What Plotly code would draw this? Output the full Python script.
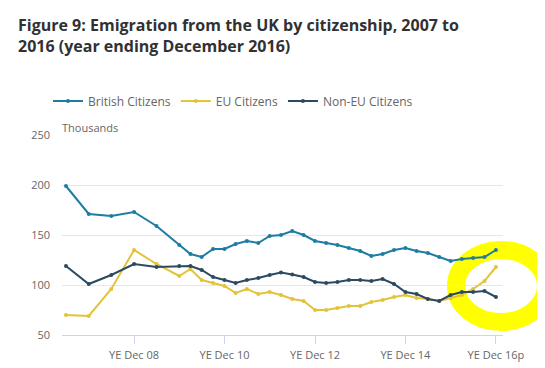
import plotly.graph_objects as go

periods = ["2007-06-30", "2007-12-31", "2008-06-30", "2008-12-31", "2009-06-30", "2009-12-31",
           "2010-03-31", "2010-06-30", "2010-09-30", "2010-12-31",
           "2011-03-31", "2011-06-30", "2011-09-30", "2011-12-31",
           "2012-03-31", "2012-06-30", "2012-09-30", "2012-12-31",
           "2013-03-31", "2013-06-30", "2013-09-30", "2013-12-31",
           "2014-03-31", "2014-06-30", "2014-09-30", "2014-12-31",
           "2015-03-31", "2015-06-30", "2015-09-30", "2015-12-31",
           "2016-03-31", "2016-06-30", "2016-09-30", "2016-12-31"]

british = [199, 171, 169, 173, 159, 140,
           131, 128, 136, 136, 141, 144, 142, 149, 150, 154, 150, 144, 142, 140,
           137, 134, 129, 131, 135, 137, 134, 132, 128, 124, 126, 127, 128, 135]
eu = [70, 69, 96, 135, 121, 109,
      116, 105, 102, 99, 92, 96, 91, 93, 90, 86, 84, 75, 75, 77,
      79, 79, 83, 85, 88, 90, 87, 86, 84, 87, 90, 96, 104, 118]
non_eu = [119, 101, 110, 121, 118, 119,
          119, 115, 108, 105, 102, 105, 107, 110, 112.5, 110.5, 108, 103, 102, 103,
          105, 105, 104, 106, 101, 93, 91, 86, 84, 90, 93, 93, 94, 88]

tick_dates = ["2008-12-31", "2010-12-31", "2012-12-31", "2014-12-31", "2016-12-31"]
tick_labels = ["YE Dec 08", "YE Dec 10", "YE Dec 12", "YE Dec 14", "YE Dec 16p"]

series = [("British Citizens", british, "#1f7ca3"),
          ("EU Citizens", eu, "#e3c33a"),
          ("Non-EU Citizens", non_eu, "#2b4a62")]

fig = go.Figure()
for name, vals, col in series:
    fig.add_trace(go.Scatter(x=periods, y=vals, name=name, mode="lines+markers",
                             line=dict(color=col, width=2),
                             marker=dict(color=col, size=4)))

# page body has an 8px margin, so the figure is drawn 8px smaller and offset
W, H = 537, 360
L, R, T, B = 54, 42, 127, 33
PW, PH = W - L - R, H - T - B

FONT = "Open Sans"
fig.update_layout(
    width=W, height=H,
    margin=dict(l=L, r=R, t=T, b=B, autoexpand=False),
    paper_bgcolor="white", plot_bgcolor="rgba(0,0,0,0)",
    font=dict(family=FONT, color="#666666", size=11),
    showlegend=True,
    legend=dict(orientation="h", x=-14 / PW, xanchor="left", y=1 + 34 / PH, yanchor="middle",
                font=dict(size=12, color="#666666"), itemwidth=30,
                bgcolor="rgba(0,0,0,0)"),
    xaxis=dict(type="date", range=["2007-05-29", "2017-02-26"],
               tickvals=tick_dates, ticktext=tick_labels,
               showgrid=False, zeroline=False,
               showline=True, linecolor="#ccd6eb", linewidth=1,
               ticks="outside", ticklen=8, tickcolor="#ccd6eb",
               ticklabelstandoff=2,
               tickfont=dict(size=11, color="#666666")),
    yaxis=dict(range=[50, 250], tickvals=[50, 100, 150, 200, 250],
               showgrid=True, gridcolor="#e6e6e6", gridwidth=1,
               zeroline=False, showline=False, ticks="",
               ticklabelstandoff=11,
               tickfont=dict(size=11, color="#666666")),
    annotations=[
        dict(text="<b>Figure 9: Emigration from the UK by citizenship, 2007 to<br>2016 (year ending December 2016)</b>",
             xref="paper", yref="paper", x=(8 - L) / PW, y=1 + (T - 4) / PH,
             xanchor="left", yanchor="top", align="left", showarrow=False,
             font=dict(family=FONT, size=16, color="#323132")),
        dict(text="Thousands", xref="paper", yref="paper", x=0, y=1 + 8 / PH,
             xanchor="left", yanchor="middle", showarrow=False, xshift=-2,
             font=dict(family=FONT, size=11, color="#666666")),
    ],
    shapes=[dict(type="circle", xref="paper", yref="paper",
                 x0=(448 - L) / PW, x1=(538 - L) / PW,
                 y0=(T + PH - 314) / PH, y1=(T + PH - 242) / PH,
                 line=dict(color="#ffff00", width=18), layer="below")],
)

fig.write_html("out.html")
